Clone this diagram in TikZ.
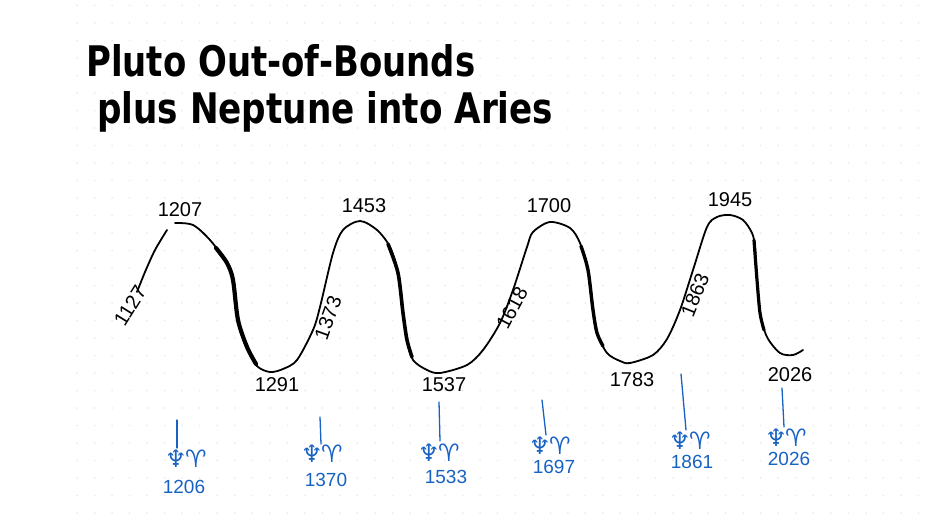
\documentclass[tikz,border=0pt]{standalone}
\usepackage{fontspec}
\usepackage{graphicx}
\setmainfont{Liberation Sans}
\newfontfamily\titlefont{DejaVu Sans}
\newfontfamily\symfont{DejaVu Sans}
\newfontfamily\handfont{Liberation Sans}
\definecolor{inkblue}{RGB}{24,98,196}
\definecolor{dotc}{RGB}{236,236,236}
\tikzset{
  wave/.style={line width=1.8pt, line cap=round, line join=round, black},
  thickwave/.style={line width=4.2pt, line cap=round, line join=round, black},
  yr/.style={inner sep=0pt, font=\handfont\fontsize{20}{20}\selectfont, text=black},
  byr/.style={inner sep=0pt, font=\handfont\fontsize{19}{19}\selectfont, text=inkblue},
  sym/.style={inner sep=0pt, font=\symfont\fontsize{24}{24}\selectfont, text=inkblue},
  tick/.style={line width=1.3pt, inkblue, line cap=round},
}
\begin{document}
\begin{tikzpicture}[x=1pt,y=-1pt]
\fill[white] (0,0) rectangle (932,527);
\useasboundingbox (0,0) rectangle (932,527);
% dot grid
\foreach \i in {0,...,48} {
  \foreach \j in {0,...,29} {
    \fill[dotc] (77+17.53*\i, 5.5+17.5*\j) circle (1pt);
  }
}
% title
\node[anchor=base west, inner sep=0pt] (title1) at (86,77)
  {\resizebox{389pt}{32pt}{\titlefont\bfseries Pluto Out-of-Bounds}};
\node[anchor=base west, inner sep=0pt] (title2) at (97,124)
  {\resizebox{456pt}{32pt}{\titlefont\bfseries plus Neptune into Aries}};
% wave
\draw[wave] plot[smooth, tension=0.5] coordinates {(137,292) (145,272) (155,250) (167,230)};
\draw[wave] plot[smooth, tension=0.5] coordinates {
 (175,223) (193,225) (210,240) (227,263) (233,280) (238,320) (247,347) (257,366) (270,372)
 (283,369) (297,360) (313,330) (320,307) (333,253) (343,230) (360,221) (377,230) (390,247)
 (398,273) (403,313) (407,340) (413,360) (427,370) (440,373) (467,365) (483,350) (500,323)
 (513,290) (527,247) (533,232) (550,222) (570,228) (580,243) (588,270) (593,310) (597,333)
 (607,353) (620,361) (630,363) (653,355) (667,339) (680,310) (693,270) (707,227) (717,217)
 (730,215) (743,220) (752,233) (755,247) (757,280) (760,313) (767,337) (780,353) (793,355)
 (803,350)};
\draw[thickwave] plot[smooth, tension=0.5] coordinates {(216,248) (227,263) (233,280) (238,320) (247,347) (256,364)};
\draw[thickwave, line width=3.6pt] plot[smooth, tension=0.5] coordinates {(388,244) (398,273) (403,313) (407,340) (412,357)};
\draw[thickwave, line width=3.4pt] plot[smooth, tension=0.5] coordinates {(581,246) (588,270) (593,310) (597,333) (603,346)};
\draw[thickwave, line width=3.2pt] plot[smooth, tension=0.5] coordinates {(754,240) (757,280) (760,313) (764,330)};
% black year labels
\node[yr, rotate=58] (l1127) at (130,306) {1127};
\node[yr] (l1207) at (180,210) {1207};
\node[yr] (l1291) at (277,385) {1291};
\node[yr, rotate=70] (l1373) at (328,318) {1373};
\node[yr] (l1453) at (364,206) {1453};
\node[yr] (l1537) at (444,385) {1537};
\node[yr, rotate=62] (l1618) at (512,308) {1618};
\node[yr] (l1700) at (549,206) {1700};
\node[yr] (l1783) at (632,380) {1783};
\node[yr, rotate=68] (l1863) at (695,295) {1863};
\node[yr] (l1945) at (730,200) {1945};
\node[yr] (l2026) at (790,375) {2026};
% blue Neptune-in-Aries markers
\foreach \k/\tax/\tay/\tbx/\tby/\nx/\ny/\yx/\yy/\yt in {
  1/177/420/177/448/176/468/184/487/1206,
  2/320/417/321/444/312/463/326/480/1370,
  3/439/402/440/441/429/462/446/477/1533,
  4/542/400/546/435/540/455/554/467/1697,
  5/681/374/686/430/680/450/692/462/1861,
  6/782/388/784/427/776/447/789/459/2026} {
  \coordinate (ta\k) at (\tax,\tay);
  \coordinate (tb\k) at (\tbx,\tby);
  \node[sym, anchor=south] (nep\k) at (\nx,\ny) {♆};
  \node[sym, anchor=south west] (ari\k) at ([xshift=-2pt]nep\k.south east) {♈};
  \node[byr] (by\k) at (\yx,\yy) {\yt};
  \draw[tick] (ta\k) -- (tb\k);
}
\end{tikzpicture}
\end{document}
